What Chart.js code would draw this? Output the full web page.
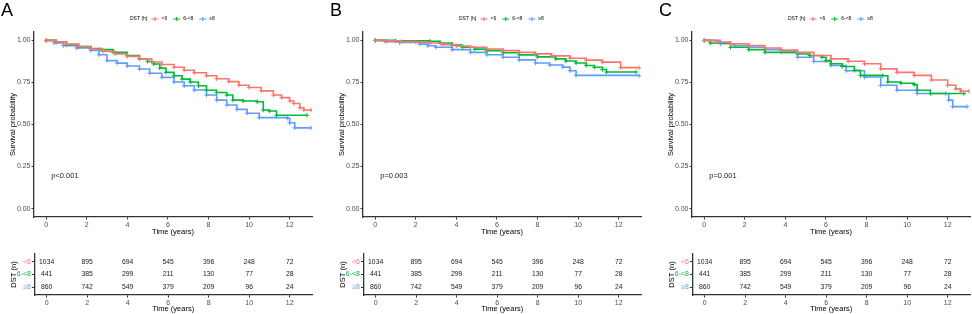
<!DOCTYPE html>
<html>
<head>
<meta charset="utf-8">
<script src="https://cdn.jsdelivr.net/npm/chart.js@4.4.0/dist/chart.umd.min.js"></script>
<style>
body { margin: 0; background: #fff; }
#fig { position: relative; width: 972px; height: 314px; overflow: hidden; }
canvas { position: absolute; }
</style>
</head>
<body>
<div id="fig"></div>
<script>
// grupos e cores
var grupos = ['<6', '6-<8', '\u22658'];
var cores = ['#F8766D', '#00BA38', '#619CFF'];
var paineis = ['A', 'B', 'C'];
var pValores = ['p<0.001', 'p=0.003', 'p=0.001'];

// eixo x
var tempos = [0, 2, 4, 6, 8, 10, 12];
var ticksY = [0, 0.25, 0.5, 0.75, 1];

// numero em risco (mesmo nos tres paineis)
var riscoLt6 = [1034, 895, 694, 545, 396, 248, 72];
var risco6a8 = [441, 385, 299, 211, 130, 77, 28];
var riscoGe8 = [860, 742, 549, 379, 209, 96, 24];

// curvas de sobrevida [tempo, probabilidade]
var A_lt6 = [[0,1],[0.5,0.99],[1,0.978],[1.6,0.965],[2.2,0.949],[2.8,0.935],[3.4,0.92],[4,0.905],[4.6,0.89],[5.2,0.872],[5.7,0.857],[6.3,0.84],[6.8,0.823],[7.3,0.808],[7.9,0.79],[8.4,0.772],[9,0.755],[9.5,0.733],[10,0.72],[10.6,0.7],[11.2,0.675],[11.6,0.66],[12,0.64],[12.2,0.625],[12.5,0.6],[12.7,0.586],[13.05,0.586]];
var A_6a8 = [[0,1],[0.5,0.99],[1,0.975],[1.6,0.962],[2.2,0.952],[2.7,0.945],[3.3,0.93],[4,0.91],[4.6,0.89],[5,0.875],[5.3,0.86],[5.6,0.835],[5.9,0.81],[6.3,0.79],[6.7,0.77],[7.1,0.753],[7.5,0.73],[7.9,0.704],[8.4,0.69],[8.9,0.675],[9.2,0.645],[9.7,0.64],[10.4,0.635],[10.7,0.586],[11,0.58],[11.35,0.555],[12.85,0.555]];
var A_ge8 = [[0,1],[0.4,0.985],[0.85,0.969],[1.5,0.955],[2.2,0.94],[2.6,0.915],[3,0.88],[3.5,0.865],[4,0.848],[4.6,0.83],[5.1,0.805],[5.7,0.78],[6.3,0.753],[6.8,0.73],[7.3,0.705],[7.9,0.675],[8.4,0.645],[8.9,0.616],[9.4,0.59],[9.9,0.567],[10.5,0.541],[11.9,0.537],[12,0.51],[12.25,0.48],[13.05,0.48]];

var B_lt6 = [[0,1],[0.6,0.997],[1.3,0.993],[2,0.99],[2.7,0.985],[3.3,0.975],[4,0.967],[4.7,0.959],[5.5,0.949],[6.3,0.939],[7.1,0.929],[7.9,0.92],[8.7,0.908],[9.6,0.894],[10.4,0.883],[11.2,0.871],[12.1,0.838],[13,0.838]];
var B_6a8 = [[0,1],[1,0.997],[2.7,0.995],[3.2,0.985],[3.8,0.972],[4.3,0.959],[4.9,0.948],[5.5,0.939],[6.3,0.927],[7.1,0.914],[8,0.902],[8.9,0.89],[9.4,0.878],[9.9,0.866],[10.4,0.851],[10.8,0.84],[11.2,0.827],[11.4,0.812],[12.85,0.812]];
var B_ge8 = [[0,1],[0.5,0.993],[1.2,0.988],[2.2,0.978],[2.6,0.968],[3,0.959],[3.8,0.945],[4.7,0.929],[5.5,0.915],[6.3,0.9],[7.1,0.884],[7.9,0.866],[8.6,0.854],[9.25,0.841],[9.6,0.82],[9.9,0.792],[13,0.79]];

var C_lt6 = [[0,1],[0.6,0.99],[1.3,0.98],[2.2,0.969],[3,0.955],[3.8,0.942],[4.6,0.929],[5.4,0.91],[6.25,0.89],[7.1,0.876],[7.9,0.861],[8.7,0.831],[9.5,0.81],[10.35,0.792],[11.2,0.765],[12,0.733],[12.4,0.712],[12.65,0.698],[13.05,0.698]];
var C_6a8 = [[0,1],[0.3,0.985],[1.3,0.959],[2.2,0.945],[3,0.929],[4.6,0.919],[5.2,0.91],[5.8,0.9],[6,0.88],[6.25,0.861],[6.8,0.845],[7.4,0.822],[7.7,0.792],[8.8,0.79],[9.05,0.753],[9.7,0.745],[10.35,0.737],[10.5,0.704],[11.15,0.684],[12.8,0.684]];
var C_ge8 = [[0,1],[0.8,0.98],[1.5,0.97],[2.2,0.959],[3,0.945],[3.8,0.929],[4.6,0.9],[5.4,0.875],[6.25,0.851],[7,0.82],[7.9,0.782],[8.7,0.733],[9.5,0.704],[10.5,0.684],[11.9,0.684],[12.05,0.645],[12.25,0.606],[12.95,0.606]];

var curvas = [[A_lt6, A_6a8, A_ge8], [B_lt6, B_6a8, B_ge8], [C_lt6, C_6a8, C_ge8]];
var riscos = [riscoLt6, risco6a8, riscoGe8];

Chart.defaults.font.family = "'Liberation Sans', Arial, sans-serif";

var LARGURA = 329;
var fig = document.getElementById('fig');

function NovoCanvas(left, top, w, h) {
    var c = document.createElement('canvas');
    c.width = w;
    c.height = h;
    c.style.left = left + 'px';
    c.style.top = top + 'px';
    c.style.width = w + 'px';
    c.style.height = h + 'px';
    fig.appendChild(c);
    return c;
}

function EixoX(altura, tituloPad) {
    return {
        type: 'linear',
        min: -0.6,
        max: 13.1,
        afterFit: function (s) { s.height = altura; },
        afterBuildTicks: function (s) { s.ticks = tempos.map(function (v) { return { value: v }; }); },
        grid: { drawOnChartArea: false, tickLength: 2.5, color: '#333', lineWidth: 1 },
        border: { color: '#333', width: 1.3 },
        ticks: { font: { size: 7 }, color: '#4D4D4D', padding: 1, maxRotation: 0, callback: function (v) { return String(v); } },
        title: { display: true, text: 'Time (years)', font: { size: 7.5 }, color: '#000', padding: { top: 0, bottom: tituloPad } }
    };
}

var pluginSobrevida = {
    id: 'sobrevida',
    afterDraw: function (chart) {
        var ctx = chart.ctx;
        var i = chart.options.painel;
        ctx.save();
        // letra do painel
        ctx.fillStyle = '#000';
        ctx.font = "18px 'Liberation Sans', Arial, sans-serif";
        ctx.textBaseline = 'alphabetic';
        ctx.textAlign = 'left';
        ctx.fillText(paineis[i], 1, 16);

        // legenda
        ctx.font = "5px 'Liberation Sans', Arial, sans-serif";
        ctx.textBaseline = 'middle';
        var x = 130, y = 19;
        ctx.fillText('DST (h)', x, y);
        x += ctx.measureText('DST (h)').width + 4;
        chart.data.datasets.forEach(function (d, k) {
            ctx.strokeStyle = cores[k];
            ctx.lineWidth = 1.2;
            ctx.beginPath();
            ctx.moveTo(x, y);
            ctx.lineTo(x + 7, y);
            ctx.moveTo(x + 3.5, y - 2);
            ctx.lineTo(x + 3.5, y + 2);
            ctx.stroke();
            x += 10;
            ctx.fillStyle = '#000';
            ctx.fillText(grupos[k], x, y);
            x += ctx.measureText(grupos[k]).width + 6;
        });

        // valor p
        ctx.font = "7.5px 'Liberation Sans', Arial, sans-serif";
        ctx.fillStyle = '#222';
        ctx.fillText(pValores[i], chart.scales.x.getPixelForValue(0.25), chart.scales.y.getPixelForValue(0.195));
        ctx.restore();
    }
};

var pluginRisco = {
    id: 'risco',
    afterDatasetsDraw: function (chart) {
        var ctx = chart.ctx;
        ctx.save();
        ctx.font = "6.8px 'Liberation Sans', Arial, sans-serif";
        ctx.fillStyle = '#1a1a1a';
        ctx.textAlign = 'center';
        ctx.textBaseline = 'middle';
        chart.data.datasets.forEach(function (d, k) {
            chart.getDatasetMeta(k).data.forEach(function (el, j) {
                ctx.fillText(String(d.data[j].n), el.x, el.y);
            });
        });
        ctx.restore();
    }
};

for (var i = 0; i < 3; i++) {
    var esquerda = i * LARGURA;

    // curvas de Kaplan-Meier
    var c1 = NovoCanvas(esquerda, 0, LARGURA, 240);
    new Chart(c1.getContext('2d'), {
        type: 'line',
        data: {
            datasets: curvas[i].map(function (c, k) {
                return {
                    label: grupos[k],
                    data: c.map(function (p) { return { x: p[0], y: p[1] }; }),
                    borderColor: cores[k],
                    backgroundColor: cores[k],
                    borderWidth: 1.6,
                    stepped: true,
                    fill: false,
                    pointStyle: 'cross',
                    pointRadius: 2.2,
                    pointBorderWidth: 1,
                    pointBorderColor: cores[k]
                };
            })
        },
        options: {
            painel: i,
            responsive: false,
            animation: false,
            devicePixelRatio: 1,
            layout: { padding: { top: 32, right: 17, left: 0, bottom: 0 } },
            plugins: { legend: { display: false }, tooltip: { enabled: false } },
            scales: {
                x: EixoX(23, 3.5),
                y: {
                    min: -0.05,
                    max: 1.05,
                    afterFit: function (s) { s.width = 34; },
                    afterBuildTicks: function (s) { s.ticks = ticksY.map(function (v) { return { value: v }; }); },
                    grid: { drawOnChartArea: false, tickLength: 2.5, color: '#333' },
                    border: { color: '#333', width: 1.3 },
                    ticks: { font: { size: 7 }, color: '#4D4D4D', padding: 1, callback: function (v) { return v.toFixed(2); } },
                    title: { display: true, text: 'Survival probability', font: { size: 7.5 }, color: '#000', padding: { top: 8.5, bottom: 0 } }
                }
            }
        },
        plugins: [pluginSobrevida]
    });

    // tabela de numero em risco
    var c2 = NovoCanvas(esquerda, 240, LARGURA, 74);
    new Chart(c2.getContext('2d'), {
        type: 'scatter',
        data: {
            datasets: riscos.map(function (r, k) {
                return {
                    label: grupos[k],
                    data: r.map(function (n, j) { return { x: tempos[j], y: k + 1, n: n }; }),
                    pointRadius: 0
                };
            })
        },
        options: {
            responsive: false,
            animation: false,
            devicePixelRatio: 1,
            layout: { padding: { top: 14, right: 17, left: 0, bottom: 0 } },
            plugins: { legend: { display: false }, tooltip: { enabled: false } },
            scales: {
                x: EixoX(19, 0.5),
                y: {
                    type: 'linear',
                    min: 0.4,
                    max: 3.6,
                    reverse: true,
                    afterFit: function (s) { s.width = 34.5; },
                    afterBuildTicks: function (s) { s.ticks = [1, 2, 3].map(function (v) { return { value: v }; }); },
                    grid: { drawOnChartArea: false, tickLength: 2.5, color: '#333' },
                    border: { color: '#333', width: 1.3 },
                    ticks: {
                        font: { size: 7 },
                        padding: 1,
                        color: function (ctx) { return cores[ctx.tick.value - 1]; },
                        callback: function (v) { return grupos[v - 1]; }
                    },
                    title: { display: true, text: 'DST (n)', font: { size: 7.5 }, color: '#000', padding: { top: 9.5, bottom: 0 } }
                }
            }
        },
        plugins: [pluginRisco]
    });
}
</script>
</body>
</html>
